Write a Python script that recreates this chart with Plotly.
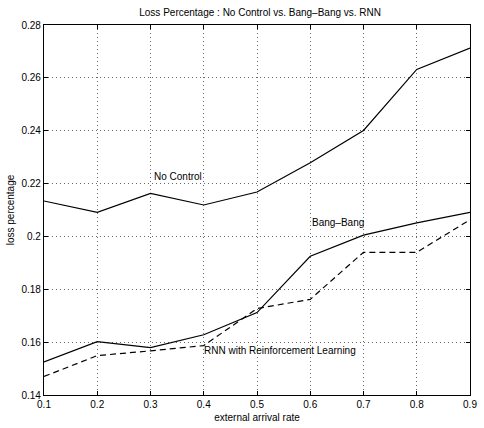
import plotly.graph_objects as go

rates = [0.1, 0.2, 0.3, 0.4, 0.5, 0.6, 0.7, 0.8, 0.9]
no_control = [0.2134, 0.2091, 0.2163, 0.2119, 0.2168, 0.2279, 0.2401, 0.2632, 0.2713]
bang_bang = [0.1525, 0.1602, 0.1579, 0.1628, 0.1712, 0.1925, 0.2005, 0.2051, 0.2091]
rnn = [0.1470, 0.1549, 0.1567, 0.1587, 0.1727, 0.1762, 0.1940, 0.1940, 0.2063]

x_ticks = [0.1, 0.2, 0.3, 0.4, 0.5, 0.6, 0.7, 0.8, 0.9]
x_labels = ["0.1", "0.2", "0.3", "0.4", "0.5", "0.6", "0.7", "0.8", "0.9"]
y_ticks = [0.14, 0.16, 0.18, 0.20, 0.22, 0.24, 0.26, 0.28]
y_labels = ["0.14", "0.16", "0.18", "0.2", "0.22", "0.24", "0.26", "0.28"]

labels = [
    ("No Control", 0.302, 0.2226),
    ("Bang\u2013Bang", 0.600, 0.2051),
    ("RNN with Reinforcement Learning", 0.3965, 0.1568),
]

FONT = "Liberation Sans, Arial, sans-serif"

fig = go.Figure()
fig.add_trace(go.Scatter(x=rates, y=no_control, mode="lines",
                         line=dict(color="black", width=1.2), showlegend=False))
fig.add_trace(go.Scatter(x=rates, y=bang_bang, mode="lines",
                         line=dict(color="black", width=1.2), showlegend=False))
fig.add_trace(go.Scatter(x=rates, y=rnn, mode="lines",
                         line=dict(color="black", width=1.2, dash="6px,4px"), showlegend=False))

for text, lx, ly in labels:
    fig.add_annotation(x=lx, y=ly, text=text, showarrow=False, xanchor="left",
                       yanchor="middle", font=dict(family=FONT, size=10, color="black"))

axis_common = dict(
    showline=True, linecolor="black", linewidth=1.2, mirror="ticks",
    ticks="inside", ticklen=4, tickcolor="black",
    showgrid=True, gridcolor="#666666", griddash="1px,3px", gridwidth=0.8,
    zeroline=False, tickfont=dict(family=FONT, size=10, color="black"),
)

fig.update_xaxes(range=[0.1, 0.9], tickvals=x_ticks, ticktext=x_labels,
                 title=dict(text="external arrival rate", standoff=4,
                            font=dict(family=FONT, size=10, color="black")),
                 **axis_common)
fig.update_yaxes(range=[0.14, 0.28], tickvals=y_ticks, ticktext=y_labels,
                 title=dict(text="loss percentage", standoff=4,
                            font=dict(family=FONT, size=10, color="black")),
                 **axis_common)

fig.update_layout(
    width=484, height=428,
    margin=dict(l=44, r=7, t=25, b=31),
    paper_bgcolor="white", plot_bgcolor="white",
    title=dict(text="Loss Percentage : No Control vs. Bang\u2013Bang vs. RNN",
               x=0.5375, xanchor="center", y=0.97, yanchor="middle",
               font=dict(family=FONT, size=10, color="black")),
)

fig.write_html("out.html", config={"displayModeBar": False},
               post_script="document.body.style.margin='0';")
